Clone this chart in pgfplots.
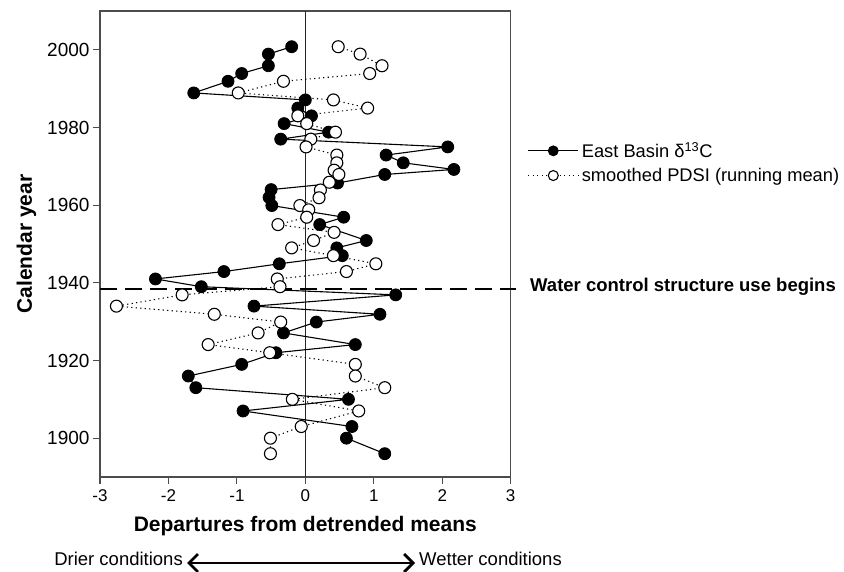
\documentclass[border=0pt]{standalone}
\usepackage{fontspec}
\setmainfont{Liberation Sans}
\usepackage{pgfplots}
\pgfplotsset{compat=1.18}
\usetikzlibrary{arrows.meta}

% East Basin d13C departures (x) by calendar year (y)
\pgfplotstableread{
x      y
-0.20  2000.8
-0.54  1998.9
-0.54  1995.9
-0.93  1993.9
-1.13  1991.9
-1.63  1988.9
 0.00  1987.1
-0.11  1985.0
 0.09  1983.0
-0.31  1981.0
 0.34  1978.8
-0.36  1977.0
 2.08  1975.0
 1.18  1972.9
 1.43  1970.9
 2.17  1969.2
 1.16  1967.9
 0.47  1965.7
-0.50  1964.0
-0.53  1962.0
-0.49  1959.9
 0.56  1956.9
 0.21  1955.0
 0.89  1950.9
 0.46  1949.0
 0.54  1947.0
-0.38  1944.9
-1.19  1942.9
-2.19  1941.0
-1.52  1939.0
 1.32  1936.9
-0.75  1934.0
 1.09  1931.9
 0.16  1929.9
-0.32  1927.1
 0.73  1924.1
-0.43  1922.0
-0.93  1919.0
-1.71  1916.0
-1.60  1913.0
 0.63  1910.0
-0.91  1907.0
 0.68  1903.0
 0.60  1900.0
 1.16  1896.0
}\eastbasin

% smoothed PDSI (running mean) departures by calendar year
\pgfplotstableread{
x      y
 0.48  2000.8
 0.80  1998.9
 1.12  1995.9
 0.94  1993.9
-0.32  1991.9
-0.98  1988.9
 0.41  1987.1
 0.91  1985.0
-0.11  1983.0
 0.02  1981.0
 0.44  1978.8
 0.08  1977.0
 0.01  1975.0
 0.46  1972.9
 0.46  1970.9
 0.42  1969.0
 0.49  1967.9
 0.35  1965.9
 0.22  1963.9
 0.20  1961.9
-0.08  1959.9
 0.05  1958.8
 0.02  1956.9
-0.40  1955.0
 0.42  1953.0
 0.12  1950.9
-0.20  1949.0
 0.41  1947.0
 1.03  1944.9
 0.60  1942.9
-0.41  1941.0
-0.37  1939.0
-1.80  1936.9
-2.76  1934.0
-1.33  1931.9
-0.36  1929.9
-0.69  1927.1
-1.42  1924.1
-0.52  1922.0
 0.73  1919.0
 0.73  1916.0
 1.16  1913.0
-0.19  1910.0
 0.78  1907.0
-0.06  1903.0
-0.51  1900.0
-0.51  1896.0
}\pdsi

\begin{document}
\begin{tikzpicture}
\useasboundingbox (0bp,0bp) rectangle (844bp,572bp);
\begin{axis}[
  at={(100bp,95bp)}, anchor=south west,
  width=410.7bp, height=466bp, scale only axis,
  xmin=-3, xmax=3, ymin=1890, ymax=2010,
  xtick={-3,-2,...,3}, ytick={1900,1920,...,2000},
  tick align=outside, xtick pos=bottom, ytick pos=left,
  major tick length=7bp,
  axis line style={draw=black!70, line width=1.1bp},
  every tick/.style={draw=black!70, line width=1.1bp},
  /pgf/number format/assume math mode=true,
  /pgf/number format/1000 sep={},
  x tick label style={font=\fontsize{17bp}{19bp}\selectfont, yshift=-2bp},
  y tick label style={font=\fontsize{19bp}{21bp}\selectfont},
  xlabel={Departures from detrended means},
  ylabel={Calendar year},
  label style={font=\bfseries\fontsize{21bp}{24bp}\selectfont},
  xlabel style={at={(axis description cs:0.5,-0.118)}, anchor=base},
  ylabel style={at={(axis description cs:-0.166,0.5)}, anchor=base},
  clip=false,
  legend style={draw=none, fill=none, at={(axis description cs:1.041,0.7225)},
    anchor=north west, font=\fontsize{18.3bp}{20bp}\selectfont,
    inner sep=0pt, row sep=5bp},
  legend cell align=left,
  legend image code/.code={%
    \draw[mark repeat=2,mark phase=2,#1,mark size=5bp]
      plot coordinates {(0bp,0bp) (25bp,0bp) (50bp,0bp)};
    \path (51bp,0bp);},
]
% zero reference line
\draw[black!85, line width=0.9bp] (axis cs:0,1890) -- (axis cs:0,2010);
% start of water control structure operation
\draw[black, line width=2.2bp, dash pattern=on 17bp off 8bp]
  (axis cs:-3,1938.5) -- (axis cs:3.08,1938.5);
\node[anchor=mid west, inner sep=0pt, xshift=19.3bp,
  font=\bfseries\fontsize{18.5bp}{20bp}\selectfont]
  at (axis cs:3,1938.5) {Water control structure use begins};

\addplot[black, line width=1.1bp, mark=*, mark size=6bp,
  mark options={solid, fill=black, line width=0.8bp}]
  table[x=x, y=y] {\eastbasin};
\addlegendentry{East Basin δ\textsuperscript{13}C}

\addplot[black, line width=1.1bp, dash pattern=on 1.2bp off 3.3bp, mark=*, mark size=6bp,
  mark options={solid, fill=white, draw=black, line width=1.1bp}]
  table[x=x, y=y] {\pdsi};
\addlegendentry{smoothed PDSI (running mean)}
\end{axis}

% direction of the departures
\node[anchor=mid east, inner sep=1bp, font=\fontsize{18.5bp}{20bp}\selectfont]
  at (184bp,9bp) {Drier conditions};
\draw[black, line width=2.8bp,
  {Straight Barb[length=9bp,width=18bp]}-{Straight Barb[length=9bp,width=18bp]}]
  (187bp,9bp) -- (415bp,9bp);
\node[anchor=mid west, inner sep=1bp, font=\fontsize{18.5bp}{20bp}\selectfont]
  at (418bp,9bp) {Wetter conditions};
\end{tikzpicture}
\end{document}
